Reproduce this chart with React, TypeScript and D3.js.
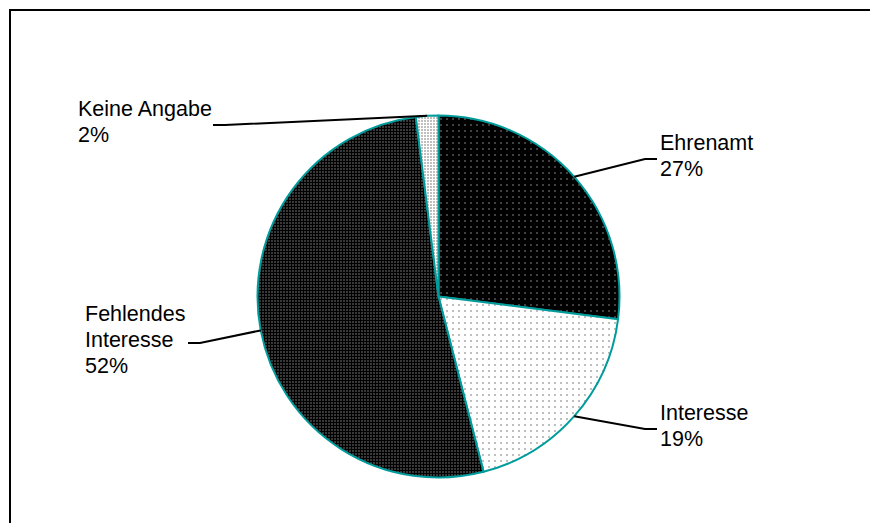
import React from "react";
import * as d3 from "d3";

const categories = ["Ehrenamt", "Interesse", "Fehlendes Interesse", "Keine Angabe"];
const values = [27, 19, 52, 2];
const labelNames = [["Ehrenamt"], ["Interesse"], ["Fehlendes", "Interesse"], ["Keine Angabe"]];

const W = 870;
const H = 523;
const cx = 438.5;
const cy = 296.5;
const R = 181;
const TEAL = "#009c9c";

// label layout: text x, first baseline, side, width of the widest line near the leader
const layout = [
  { x: 660, y: 150, side: "right" as const, w: 0 },
  { x: 660, y: 420, side: "right" as const, w: 0 },
  { x: 85, y: 321, side: "left" as const, w: 103 },
  { x: 78, y: 116, side: "left" as const, w: 135 },
];

const patternIds = ["pEhren", "pInter", "pFehl", "pKeine"];

export default function App() {
  const pie = d3
    .pie<number>()
    .sort(null)
    .value((d) => d)
    .startAngle(0)
    .endAngle(2 * Math.PI);
  const arcs = pie(values);
  const arc = d3.arc<d3.PieArcDatum<number>>().innerRadius(0).outerRadius(R);
  const lh = 26;

  return (
    <svg
      width={W}
      height={H}
      style={{ position: "absolute", left: 0, top: 0, background: "#fff" }}
      fontFamily="'Liberation Sans', Arial, sans-serif"
    >
      <defs>
        <pattern id="pEhren" width={6} height={6} patternUnits="userSpaceOnUse">
          <rect width={6} height={6} fill="#000" />
          <rect x={2} y={2} width={1} height={1} fill="#fff" shapeRendering="crispEdges" />
        </pattern>
        <pattern id="pInter" width={6} height={6} patternUnits="userSpaceOnUse">
          <rect width={6} height={6} fill="#fff" />
          <rect x={2} y={2} width={1} height={1} fill="#000" shapeRendering="crispEdges" />
        </pattern>
        <pattern id="pFehl" width={3} height={3} patternUnits="userSpaceOnUse">
          <rect width={3} height={3} fill="#000" />
          <rect x={1} y={1} width={1} height={1} fill="#e0e0e0" shapeRendering="crispEdges" />
        </pattern>
        <pattern id="pKeine" width={3} height={3} patternUnits="userSpaceOnUse">
          <rect width={3} height={3} fill="#fff" />
          <rect x={1} y={1} width={1} height={1} fill="#000" shapeRendering="crispEdges" />
        </pattern>
      </defs>
      <rect x={10} y={10} width={W + 20} height={H + 20} fill="#fff" stroke="#000" strokeWidth={2} />
      <g transform={`translate(${cx},${cy})`}>
        {arcs.map((a, i) => (
          <path
            key={categories[i]}
            d={arc(a) || ""}
            fill={`url(#${patternIds[i]})`}
            stroke={TEAL}
            strokeWidth={2}
            strokeLinejoin="round"
          />
        ))}
      </g>
      {arcs.map((a, i) => {
        const mid = (a.startAngle + a.endAngle) / 2;
        const px = cx + R * Math.sin(mid);
        const py = cy - R * Math.cos(mid);
        const L = layout[i];
        const lines = [...labelNames[i], `${values[i]}%`];
        const ly = L.y - 15 + (lines.length * lh) / 2 - 2;
        let x1: number, x2: number;
        if (L.side === "right") {
          x1 = L.x - 3;
          x2 = L.x - 15;
        } else {
          x1 = L.x + L.w;
          x2 = x1 + 12;
        }
        return (
          <g key={"lbl" + i}>
            <polyline
              points={`${x1},${ly} ${x2},${ly} ${px},${py}`}
              fill="none"
              stroke="#000"
              strokeWidth={2}
            />
            <text x={L.x} y={L.y} fontSize={21.5} fill="#000">
              {lines.map((t, j) => (
                <tspan key={j} x={L.x} y={L.y + j * lh}>
                  {t}
                </tspan>
              ))}
            </text>
          </g>
        );
      })}
    </svg>
  );
}
